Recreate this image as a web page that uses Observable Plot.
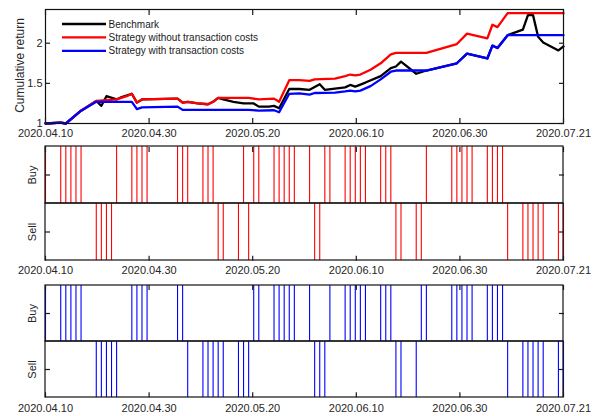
<!DOCTYPE html>
<html><head><meta charset="utf-8">
<script src="https://cdn.jsdelivr.net/npm/d3@7"></script>
<script src="https://cdn.jsdelivr.net/npm/@observablehq/plot@0.6"></script>
<style>
body{margin:0;background:#fff;font-family:"Liberation Sans",Arial,sans-serif;}
#wrap{position:relative;width:600px;height:416px;overflow:hidden;}
#wrap svg{display:block}
</style></head><body><div id="wrap"></div>
<script>
// ---- data ----
const xTicks = [0, 20.4, 40.8, 61.2, 81.6, 102];
const xTickLabels = ["2020.04.10", "2020.04.30", "2020.05.20", "2020.06.10", "2020.06.30", "2020.07.21"];
const yTicks = [1, 1.5, 2];
const seriesNames = ["Benchmark", "Strategy without transaction costs", "Strategy with transaction costs"];
const signalRows = ["Buy", "Sell"];

// [day index, cumulative return]
const benchmark = [[0,1.0],[3,1.01],[4,1.0],[7,1.16],[10,1.28],[11,1.22],[12,1.34],[14,1.30],[15,1.33],[17,1.37],[18,1.26],[19,1.30],[26,1.31],[27,1.26],[28,1.27],[30,1.25],[32,1.24],[33,1.27],[34,1.32],[35,1.30],[37,1.27],[39,1.25],[41,1.25],[42,1.21],[44,1.21],[45,1.22],[46,1.19],[48,1.43],[50,1.43],[52,1.42],[54,1.49],[55,1.42],[59,1.45],[60,1.48],[61,1.46],[63,1.51],[66,1.59],[68,1.69],[69,1.71],[70,1.77],[73,1.62],[75,1.66],[81,1.75],[83,1.87],[87,1.81],[88,1.97],[89,1.94],[91,2.10],[94,2.17],[95,2.35],[96,2.35],[97,2.08],[98,2.01],[101,1.91],[102,1.96]];
const strategyNoCost = [[0,1.0],[3,1.01],[4,1.0],[7,1.16],[10,1.28],[14,1.30],[16,1.34],[17,1.37],[18,1.26],[19,1.30],[26,1.31],[27,1.26],[28,1.27],[30,1.25],[32,1.24],[33,1.27],[34,1.32],[40,1.32],[42,1.30],[45,1.31],[46,1.27],[48,1.54],[50,1.54],[52,1.53],[53,1.55],[57,1.56],[59,1.59],[60,1.61],[61,1.60],[62,1.61],[64,1.67],[66,1.75],[68,1.86],[69,1.88],[75,1.88],[81,1.99],[83,2.12],[87,2.06],[88,2.23],[89,2.20],[91,2.375],[102,2.375]];
const strategyWithCost = [[0,1.0],[3,1.01],[4,1.0],[7,1.16],[10,1.27],[17,1.27],[18,1.18],[19,1.20],[26,1.21],[27,1.17],[40,1.17],[42,1.16],[45,1.165],[46,1.14],[48,1.37],[50,1.375],[52,1.36],[53,1.38],[57,1.385],[59,1.40],[60,1.41],[61,1.40],[62,1.41],[64,1.465],[66,1.55],[68,1.645],[69,1.66],[75,1.66],[81,1.75],[83,1.87],[87,1.81],[88,1.97],[89,1.94],[91,2.10],[102,2.10]];

// trade signal days
const buyNoCost = [0,3,4,5,6,7,14,17,18,19,20,26,27,28,31,32,33,39,41,42,45,46,47,48,49,52,55,56,59,60,61,62,63,66,67,68,75,80,81,82,83,84,87,88,89,90];
const sellNoCost = [10,11,12,13,34,35,38,40,53,54,69,70,73,74,91,94,95,96,97,98,101,102];
const buyWithCost = [0,3,4,5,6,7,17,18,19,20,26,27,41,42,45,46,47,48,49,52,56,59,60,61,62,63,66,67,68,74,75,80,81,82,83,84,87,88,89,90];
const sellWithCost = [10,11,12,13,14,28,31,32,33,34,35,38,39,40,53,54,55,69,70,73,91,94,95,96,97,98,101,102];

// ---- styles ----
const seriesColors = ["#000000", "#ff0000", "#0000ff"];
const font = "'Liberation Sans', Arial, sans-serif";
const common = {
  width: 600, marginLeft: 45, marginRight: 37,
  style: {fontFamily: font, fontSize: "11px", color: "#1a1a1a", background: "white", overflow: "visible"}
};
const xScale = {domain: [0, 102], label: null};
const xLabel = d => xTickLabels[xTicks.indexOf(d)];
const xAxisMarks = (pad) => [
  Plot.axisX(xTicks, {anchor: "top", tickSize: -5, tickFormat: () => "", strokeWidth: 1.2}),
  Plot.axisX(xTicks, {anchor: "bottom", tickSize: -5, tickFormat: () => "", strokeWidth: 1.2}),
  Plot.axisX(xTicks, {anchor: "bottom", tickSize: 0, tickPadding: pad, tickFormat: xLabel, fill: "#262626"})
];

const wrap = document.getElementById("wrap");

// ---- top panel ----
const series = [benchmark, strategyNoCost, strategyWithCost];
const topPlot = Plot.plot({
  ...common, height: 140, marginTop: 9, marginBottom: 17,
  x: xScale,
  y: {domain: [1, 2.42], label: null},
  marks: [
    ...series.map((s, i) => Plot.line(s, {x: d => d[0], y: d => d[1], stroke: seriesColors[i], strokeWidth: 2.3})),
    Plot.frame({stroke: "#111", strokeWidth: 1.2}),
    ...xAxisMarks(6),
    Plot.axisY(yTicks, {anchor: "left", tickSize: -5, tickFormat: () => "", strokeWidth: 1.2}),
    Plot.axisY(yTicks, {anchor: "right", tickSize: -5, tickFormat: () => "", strokeWidth: 1.2}),
    Plot.axisY(yTicks, {anchor: "left", tickSize: 0, tickPadding: 3, tickFormat: d => String(d), fill: "#262626", fontSize: 11}),
    Plot.text(["Cumulative return"], {text: d => d, frameAnchor: "left", textAnchor: "middle", dx: -25, dy: -1, rotate: -90, fontSize: 12, fill: "#262626"})
  ]
});
wrap.appendChild(topPlot);

// legend
const leg = d3.select(wrap).append("svg")
  .attr("width", 300).attr("height", 62)
  .style("position", "absolute").style("left", "0px").style("top", "0px");
seriesNames.forEach((name, i) => {
  const y = 24 + i * 13.4;
  leg.append("line").attr("x1", 62).attr("x2", 106).attr("y1", y).attr("y2", y)
    .attr("stroke", seriesColors[i]).attr("stroke-width", 2.3);
  leg.append("text").attr("x", 108.5).attr("y", y).attr("dy", "0.35em")
    .attr("font-family", font).attr("font-size", 10).attr("fill", "#1a1a1a").text(name);
});

// ---- signal panels ----
function signalPlot(buy, sell, color, h, mt, mb, pad) {
  return Plot.plot({
    ...common, height: h, marginTop: mt, marginBottom: mb,
    x: xScale,
    y: {type: "band", domain: signalRows, padding: 0, label: null},
    marks: [
      Plot.tickX(buy, {x: d => d, y: () => "Buy", stroke: color, strokeWidth: 1.1}),
      Plot.tickX(sell, {x: d => d, y: () => "Sell", stroke: color, strokeWidth: 1.1}),
      Plot.cell(signalRows, {y: d => d, fill: "none", stroke: "#111", strokeWidth: 1.2}),
      ...xAxisMarks(pad),
      Plot.axisY({anchor: "left", tickSize: -5, tickFormat: () => "", strokeWidth: 1.2}),
      Plot.axisY({anchor: "right", tickSize: -5, tickFormat: () => "", strokeWidth: 1.2}),
      Plot.text(signalRows, {y: d => d, text: d => d, frameAnchor: "left", textAnchor: "middle", dx: -13, rotate: -90, fontSize: 11, fill: "#262626"})
    ]
  });
}
wrap.appendChild(signalPlot(buyNoCost, sellNoCost, seriesColors[1], 137, 6, 16.3, 5));
wrap.appendChild(signalPlot(buyWithCost, sellWithCost, seriesColors[2], 139, 7, 18.7, 6));
</script></body></html>
